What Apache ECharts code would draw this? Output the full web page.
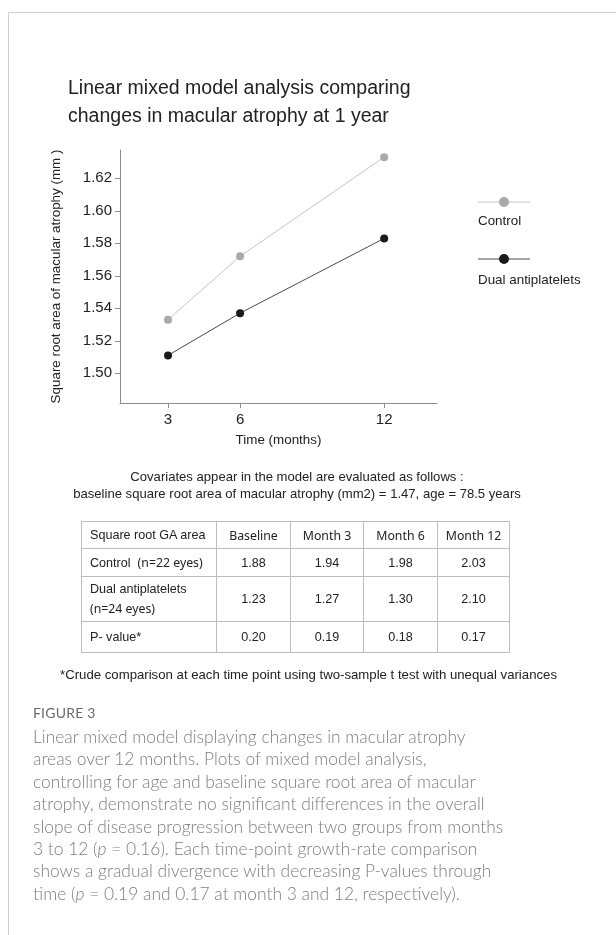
<!DOCTYPE html>
<html>
<head>
<meta charset="utf-8">
<script src="https://cdn.jsdelivr.net/npm/echarts@6/dist/echarts.min.js"></script>
<style>
  html, body { margin: 0; padding: 0; background: #fff; }
  #page { position: relative; width: 616px; height: 935px; overflow: hidden; }
  #frame { position: absolute; left: 8px; top: 12px; width: 620px; height: 940px;
           border-top: 1px solid #d2d2d2; border-left: 1px solid #d2d2d2; }
  #chart { position: absolute; left: 0; top: 0; width: 616px; height: 935px; }
  .txt { position: absolute; font-family: "Liberation Sans", Arial, sans-serif; color: #222; white-space: nowrap; }
  #cov { left: 0; width: 594px; top: 468px; text-align: center; font-size: 13.1px; line-height: 17px; }
  #foot { left: 60px; top: 667px; font-size: 13.2px; }
  table { position: absolute; left: 81px; top: 521px; table-layout: fixed; border-collapse: collapse;
          font-family: "Liberation Sans", Arial, sans-serif; font-size: 12.6px; color: #222; }
  td { border: 1px solid #bdbdbd; padding: 0; text-align: center; overflow: hidden; white-space: nowrap; }
  td.first { text-align: left; padding-left: 8px; }
  .alt { font-family: "Noto Sans", sans-serif; font-size: 12.3px; }
  #figlab { position: absolute; left: 33px; top: 704px; font-family: "Lato", "Open Sans", sans-serif;
            font-size: 14px; color: #6a6a6a; letter-spacing: 0.2px; }
  #cap { position: absolute; left: 33px; top: 726px; font-family: "Lato", "Open Sans", sans-serif; font-weight: 300;
         font-size: 17.4px; line-height: 22.4px; color: #7e7e7e; white-space: nowrap; }
</style>
</head>
<body>
<div id="page">
  <div id="frame"></div>
  <div id="chart"></div>
  <div class="txt" id="cov"></div>
  <table id="tbl"></table>
  <div class="txt" id="foot"></div>
  <div id="figlab">FIGURE 3</div>
  <div id="cap"></div>
</div>
<script>
// ---- data ----
var months = [3, 6, 12];
var controlValues = [1.533, 1.572, 1.633];
var dualValues = [1.511, 1.537, 1.583];
var yTickValues = [1.50, 1.52, 1.54, 1.56, 1.58, 1.60, 1.62];
var xTickValues = [3, 6, 12];
var seriesNames = ['Control', 'Dual antiplatelets'];

var tableHeader = ['Square root GA area', 'Baseline', 'Month 3', 'Month 6', 'Month 12'];
var tableControl = ['1.88', '1.94', '1.98', '2.03'];
var tableDual = ['1.23', '1.27', '1.30', '2.10'];
var tablePValue = ['0.20', '0.19', '0.18', '0.17'];

var titleText = 'Linear mixed model analysis comparing\nchanges in macular atrophy at 1 year';
var covLines = ['Covariates appear in the model are evaluated as follows :',
                'baseline square root area of macular atrophy (mm2) = 1.47, age = 78.5 years'];
var footText = '*Crude comparison at each time point using two-sample t test with unequal variances';
var captionLines = [
  'Linear mixed model displaying changes in macular atrophy',
  'areas over 12 months. Plots of mixed model analysis,',
  'controlling for age and baseline square root area of macular',
  'atrophy, demonstrate no significant differences in the overall',
  'slope of disease progression between two groups from months',
  '3 to 12 (<i>p</i> = 0.16). Each time-point growth-rate comparison',
  'shows a gradual divergence with decreasing P-values through',
  'time (<i>p</i> = 0.19 and 0.17 at month 3 and 12, respectively).'
];

// ---- html parts ----
document.getElementById('cov').innerHTML = covLines.join('<br>');
document.getElementById('foot').textContent = footText;
document.getElementById('cap').innerHTML = captionLines.join('<br>');

var colW = [126, 73, 72, 73, 71];
var rows = [];
rows.push('<tr style="height:27px">' + tableHeader.map(function (h, i) {
  return '<td class="' + (i === 0 ? 'first' : 'alt') + '" style="width:' + colW[i] + 'px">' + h + '</td>';
}).join('') + '</tr>');
function dataRow(label, vals, h) {
  return '<tr style="height:' + h + 'px"><td class="first">' + label + '</td>' +
    vals.map(function (v) { return '<td>' + v + '</td>'; }).join('') + '</tr>';
}
rows.push(dataRow('Control&nbsp; <span class="alt">(n=22 eyes)</span>', tableControl, 28));
rows.push(dataRow('<div style="line-height:20px">Dual antiplatelets<br><span class="alt">(n=24 eyes)</span></div>', tableDual, 45));
rows.push(dataRow('P- value*', tablePValue, 31));
document.getElementById('tbl').innerHTML = rows.join('');

// ---- chart ----
var chart = echarts.init(document.getElementById('chart'), null, { renderer: 'canvas' });
var font = '"Liberation Sans", Arial, sans-serif';
function pairs(vals) { return months.map(function (m, i) { return [m, vals[i]]; }); }

var option = {
  animation: false,
  textStyle: { fontFamily: font },
  title: {
    text: titleText, left: 68, top: 75, padding: 0,
    textStyle: { fontFamily: font, fontSize: 19.5, fontWeight: 'normal', color: '#222', lineHeight: 28 }
  },
  grid: { left: 120, top: 150, right: 179, bottom: 532, containLabel: false },
  xAxis: {
    type: 'value', min: 1, max: 14.2,
    name: 'Time (months)', nameLocation: 'middle', nameGap: 31,
    nameTextStyle: { fontSize: 13.4, color: '#222', fontFamily: font },
    axisLine: { show: true, lineStyle: { color: '#8c8c8c', width: 1 } },
    axisTick: { show: true, length: 5, lineStyle: { color: '#8c8c8c' }, customValues: xTickValues },
    axisLabel: { fontSize: 15, color: '#222', margin: 9, customValues: xTickValues },
    splitLine: { show: false }
  },
  yAxis: {
    type: 'value', min: 1.4817, max: 1.6374,
    name: 'Square root area of macular atrophy (mm )', nameLocation: 'middle', nameGap: 57, nameRotate: 90,
    nameTextStyle: { fontSize: 13.4, color: '#222', fontFamily: font },
    axisLine: { show: true, lineStyle: { color: '#8c8c8c', width: 1 } },
    axisTick: { show: true, length: 5, lineStyle: { color: '#8c8c8c' }, customValues: yTickValues },
    axisLabel: { fontSize: 15, color: '#222', margin: 8, customValues: yTickValues,
                 formatter: function (v) { return v.toFixed(2); } },
    splitLine: { show: false }
  },
  series: [
    { name: seriesNames[0], type: 'line', data: pairs(controlValues), symbol: 'circle', symbolSize: 8,
      lineStyle: { color: '#c4c4c4', width: 1 }, itemStyle: { color: '#a9a9a9' } },
    { name: seriesNames[1], type: 'line', data: pairs(dualValues), symbol: 'circle', symbolSize: 8,
      lineStyle: { color: '#4a4a4a', width: 1 }, itemStyle: { color: '#1a1a1a' } }
  ],
  graphic: [
    { type: 'line', shape: { x1: 478, y1: 202, x2: 530, y2: 202 }, style: { stroke: '#c4c4c4', lineWidth: 1 } },
    { type: 'circle', shape: { cx: 504, cy: 202, r: 5 }, style: { fill: '#a9a9a9' } },
    { type: 'text', left: 478, top: 215, style: { text: seriesNames[0], font: '13.4px ' + font, fill: '#222' } },
    { type: 'line', shape: { x1: 478, y1: 259, x2: 530, y2: 259 }, style: { stroke: '#4a4a4a', lineWidth: 1 } },
    { type: 'circle', shape: { cx: 504, cy: 259, r: 5 }, style: { fill: '#1a1a1a' } },
    { type: 'text', left: 478, top: 274, style: { text: seriesNames[1], font: '13.4px ' + font, fill: '#222' } }
  ]
};
chart.setOption(option);
</script>
</body>
</html>
